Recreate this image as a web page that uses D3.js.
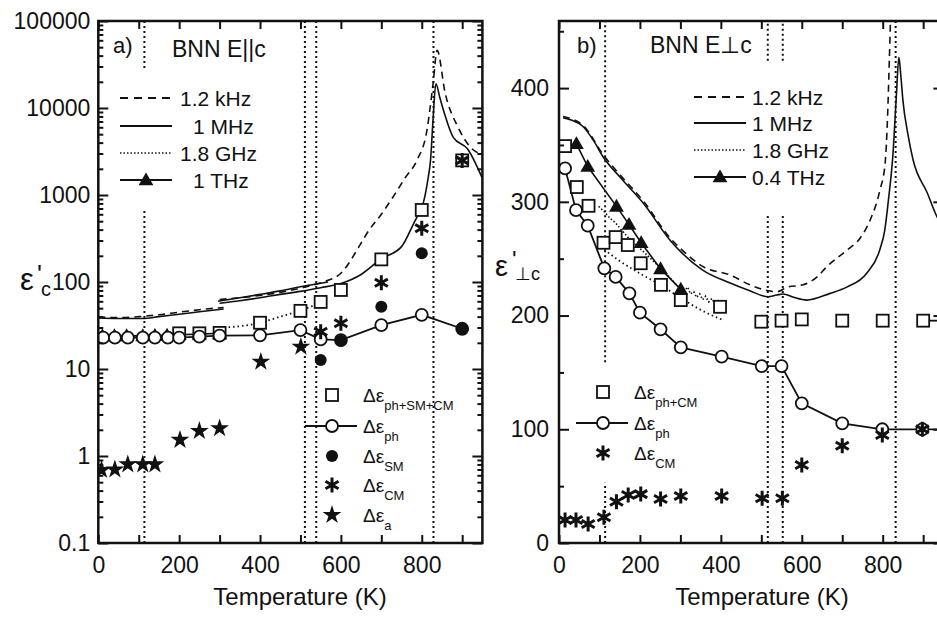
<!DOCTYPE html>
<html>
<head>
<meta charset="utf-8">
<script src="https://cdn.jsdelivr.net/npm/d3@7"></script>
<style>
  body { margin: 0; background: #fff; }
  text { font-family: "Liberation Sans", Arial, Helvetica, sans-serif; fill: #111; }
</style>
</head>
<body>
<svg id="chart" width="937" height="617"></svg>
<script>
// ---------- axis ticks ----------
const xTickValues = [0, 100, 200, 300, 400, 500, 600, 700, 800, 900];
const xTickLabels = [0, 200, 400, 600, 800];
const yMajorA = [0.1, 1, 10, 100, 1000, 10000, 100000];
const yLabelsA = ["0.1", "1", "10", "100", "1000", "10000", "100000"];
const yMajorB = [0, 100, 200, 300, 400];
const yMinorB = [50, 150, 250, 350, 450];

// ---------- panel a: BNN E||c (log scale) ----------
// continuous spectra [T (K), eps']
const aKHzLow  = [[0,39.5],[50,39],[100,40],[150,42],[200,45],[250,48],[310,51]];
const aMHzLow  = [[0,38.5],[50,38],[110,38],[150,40],[200,42.5],[250,45.5],[310,49]];
const aKHzHigh = [[300,63],[350,66],[400,70],[450,76],[500,85],[550,98],[600,126],[650,280],[665,366],[700,600],[729,950],[760,1600],[788,2500],[813,5600],[828,19000],[838,46000],[858,14800],[890,6000],[919,3600],[950,2900]];
const aMHzHigh = [[300,57],[350,61],[400,66],[450,72],[500,78],[550,86],[600,96],[650,122],[700,185],[750,255],[780,470],[790,580],[805,850],[815,1490],[822,2600],[828,7500],[835,19000],[845,13000],[855,9000],[878,4600],[913,3400],[950,1550]];
const aMHzMid  = [[296,60],[350,66],[400,72],[450,79],[500,88],[568,100]];
const aGHz     = [[300,30],[350,31],[400,34],[450,40],[500,47],[550,58]];
// mode strengths
const aTHzT   = [10, 40, 70, 110, 140, 170, 200, 250, 300];
const aTHzV   = [24, 24, 24, 24, 24.2, 24.4, 24.8, 25.2, 25.8];
const aSumT   = [200, 250, 300, 400, 500, 550, 600, 700, 800, 900];
const aSumV   = [25.7, 25.7, 26, 34, 46.6, 59, 81, 182, 673, 2500];
const aPhT    = [12, 41, 73, 110, 140, 172, 200, 250, 300, 400, 500, 550, 600, 700, 800, 900];
const aPhV    = [22.9, 22.9, 22.9, 22.9, 23, 23, 23, 23.6, 24.2, 24.4, 28, 21.9, 21.5, 32, 42, 29];
const aSmT    = [550, 600, 700, 800, 900];
const aSmV    = [12.7, 21.1, 52, 214, 29];
const aCmT    = [550, 600, 700, 800, 900];
const aCmV    = [26.8, 33.5, 98, 414, 2500];
const aAT     = [8, 41, 73, 110, 140, 202, 250, 300, 402, 501];
const aAV     = [0.69, 0.70, 0.80, 0.80, 0.80, 1.53, 1.94, 2.08, 12.1, 18.0];
// phase transition temperatures (K), with gaps left for the legends
const refA = [{t:114, gap:[690, 28800]}, {t:511}, {t:539}, {t:829}];

// ---------- panel b: BNN E⊥c (linear scale) ----------
const bKHz = [[10,375],[60,367],[110,341],[150,324],[210,300],[275,268],[300,259],[356,243],[423,235.6],[472,227],[514,222],[540,221],[564,225],[603,227],[638,234],[662,243],[712,257.6],[744,268],[769,284],[793,310],[806,334],[812,375],[816,420],[820,470]];
const bMHz = [[10,374],[30,372],[60,366],[85,354],[110,339],[150,322],[210,298],[275,266],[355,240],[420,229],[470,222],[517,216.5],[538,218],[554,219],[580,216],[612,213.6],[670,219.5],[711,225],[760,237],[793,258],[805,275],[814,301],[826,345],[834,395],[840,427],[845,410],[850,389],[862,360],[875,337],[910,308],[934,287],[950,278]];
const bGHz = [[98,296],[110,292],[125,286],[141,281],[155,275],[170,269],[185,264],[203,258],[215,254],[230,249],[250,242],[262,238],[275,233],[290,227],[300,224],[310,222],[318,225],[325,219],[333,221],[340,216],[348,219],[355,214],[362,217],[370,212],[378,215],[385,210],[392,214],[400,211],[408,213]];
const bGHz2 = [[112,258],[150,248],[200,237],[250,227],[307,214],[350,205],[406,196]];
const bTHzT  = [43, 71, 142, 173, 203, 251, 301];
const bTHzV  = [351, 331, 296, 280, 264, 241, 223];
const bSumT  = [15, 44, 73, 110, 140, 170, 202, 252, 301, 398, 500, 550, 600, 700, 800, 900];
const bSumV  = [349, 313, 296.5, 264, 269, 262, 246, 227, 213.6, 207.7, 194.6, 195.5, 196.6, 195.5, 195.5, 195.5];
const bPhT   = [15, 42, 71, 112, 140, 174, 200, 251, 301, 402, 501, 550, 600, 700, 799, 898];
const bPhV   = [329.4, 292.7, 279, 241.5, 234, 219.5, 202.5, 187.9, 172, 163.8, 155.6, 155.6, 122.8, 105.2, 100, 100];
const bCmT   = [15, 42, 72, 111, 142, 171, 202, 251, 301, 402, 502, 552, 600, 700, 799, 898];
const bCmV   = [20.2, 20.2, 16.7, 22.6, 36.3, 42.2, 43, 38.7, 41.3, 41.3, 39.3, 39.3, 68.6, 85.5, 95, 100];
const refB = [{t:114, gap:[53, 159]}, {t:516, gap:[290, 424]}, {t:553, gap:[290, 424]}, {t:832}];

// ---------- drawing ----------
const svg = d3.select("#chart");
svg.append("rect").attr("width", 937).attr("height", 617).attr("fill", "#fff");
const zip = (T, V) => T.map((t, i) => [t, V[i]]);

function makePanel(id, x, y) {
  const [x0, x1] = x.range();
  const [yb, yt] = y.range();
  svg.append("clipPath").attr("id", "clip-" + id)
    .append("rect").attr("x", x0).attr("y", yt).attr("width", x1 - x0).attr("height", yb - yt);
  const g = svg.append("g");
  const plot = g.append("g").attr("clip-path", `url(#clip-${id})`);
  return { g, plot, x, y };
}

function curve(P, data, dash, width = 1.6, smooth = true) {
  P.plot.append("path")
    .datum(data)
    .attr("fill", "none").attr("stroke", "#111").attr("stroke-width", width)
    .attr("stroke-dasharray", dash || null)
    .attr("d", d3.line().x(d => P.x(d[0])).y(d => P.y(d[1]))
      .curve(smooth ? d3.curveMonotoneX : d3.curveLinear));
}

function refLines(P, list) {
  const [yb, yt] = P.y.range();
  list.forEach(r => {
    const segs = r.gap ? [[yb, P.y(r.gap[0])], [P.y(r.gap[1]), yt]] : [[yb, yt]];
    segs.forEach(s => P.plot.append("line")
      .attr("x1", P.x(r.t)).attr("x2", P.x(r.t)).attr("y1", s[0]).attr("y2", s[1])
      .attr("stroke", "#111").attr("stroke-width", 2).attr("stroke-dasharray", "2,3"));
  });
}

// marker shapes drawn at pixel position (cx, cy)
const markers = {
  square: (g, cx, cy) => g.append("rect").attr("x", cx - 6).attr("y", cy - 6).attr("width", 12).attr("height", 12)
    .attr("fill", "#fff").attr("stroke", "#111").attr("stroke-width", 1.8),
  circle: (g, cx, cy) => g.append("circle").attr("cx", cx).attr("cy", cy).attr("r", 6)
    .attr("fill", "#fff").attr("stroke", "#111").attr("stroke-width", 1.8),
  dot: (g, cx, cy) => g.append("circle").attr("cx", cx).attr("cy", cy).attr("r", 6).attr("fill", "#111"),
  triangle: (g, cx, cy) => g.append("path").attr("transform", `translate(${cx},${cy + 1})`)
    .attr("d", d3.symbol().type(d3.symbolTriangle).size(95)()).attr("fill", "#111"),
  star: (g, cx, cy) => g.append("path").attr("transform", `translate(${cx},${cy})`)
    .attr("d", d3.symbol().type(d3.symbolStar).size(110)()).attr("fill", "#111"),
  asterisk: (g, cx, cy) => {
    const r = 7.5, a = r * Math.cos(Math.PI / 6), b = r * Math.sin(Math.PI / 6);
    g.append("path")
      .attr("d", `M${cx},${cy - r}L${cx},${cy + r}M${cx - a},${cy - b}L${cx + a},${cy + b}M${cx - a},${cy + b}L${cx + a},${cy - b}`)
      .attr("stroke", "#111").attr("stroke-width", 3).attr("fill", "none");
  }
};

function points(P, T, V, shape) {
  T.forEach((t, i) => markers[shape](P.plot, P.x(t), P.y(V[i])));
}

function styleAxis(sel) {
  sel.select(".domain").remove();
  sel.selectAll(".tick line").attr("stroke", "#111").attr("stroke-width", 2);
  sel.selectAll(".tick text").attr("font-size", 23).attr("fill", "#111")
    .attr("font-family", '"Liberation Sans", Arial, sans-serif');
  sel.attr("font-family", null).attr("font-size", null);
}

function axes(P, yMajor, yMinor, yFmt, yPad) {
  const [x0, x1] = P.x.range();
  const [yb, yt] = P.y.range();
  P.g.append("g").attr("transform", `translate(0,${yb})`)
    .call(d3.axisBottom(P.x).tickValues(xTickValues).tickSize(-8).tickPadding(14)
      .tickFormat(d => xTickLabels.includes(d) ? d : "")).call(styleAxis);
  P.g.append("g").attr("transform", `translate(0,${yt})`)
    .call(d3.axisTop(P.x).tickValues(xTickValues).tickSize(-8).tickFormat("")).call(styleAxis);
  P.g.append("g").attr("transform", `translate(${x0},0)`)
    .call(d3.axisLeft(P.y).tickValues(yMajor).tickSize(-10).tickPadding(yPad).tickFormat(yFmt)).call(styleAxis);
  P.g.append("g").attr("transform", `translate(${x0},0)`)
    .call(d3.axisLeft(P.y).tickValues(yMinor).tickSize(-5).tickFormat("")).call(styleAxis);
  P.g.append("g").attr("transform", `translate(${x1},0)`)
    .call(d3.axisRight(P.y).tickValues(yMajor).tickSize(-10).tickFormat("")).call(styleAxis);
  P.g.append("g").attr("transform", `translate(${x1},0)`)
    .call(d3.axisRight(P.y).tickValues(yMinor).tickSize(-5).tickFormat("")).call(styleAxis);
  P.g.append("rect").attr("x", x0).attr("y", yt).attr("width", x1 - x0).attr("height", yb - yt)
    .attr("fill", "none").attr("stroke", "#111").attr("stroke-width", 2.5);
}

function label(x, y, str, size, anchor) {
  return svg.append("text").attr("x", x).attr("y", y).attr("font-size", size)
    .attr("text-anchor", anchor || "start").text(str);
}

function freqLegend(x1, x2, rows) {
  rows.forEach(r => {
    svg.append("line").attr("x1", x1).attr("x2", x2).attr("y1", r.y).attr("y2", r.y)
      .attr("stroke", "#111").attr("stroke-width", r.dash === "1.5,2" ? 1.6 : 1.8)
      .attr("stroke-dasharray", r.dash || null);
    if (r.tri) markers.triangle(svg, (x1 + x2) / 2, r.y);
    label(r.tx, r.y + 8, r.text, 21);
  });
}

function symLegend(mx, lx, rows) {
  rows.forEach(r => {
    if (r.line) svg.append("line").attr("x1", mx - 27).attr("x2", mx + 25).attr("y1", r.y).attr("y2", r.y)
      .attr("stroke", "#111").attr("stroke-width", 1.8);
    markers[r.shape](svg, mx, r.y);
    const t = svg.append("text").attr("x", lx).attr("y", r.y + 7).attr("font-size", 19);
    t.append("tspan").text("Δε");
    t.append("tspan").attr("font-size", 13).attr("dy", 8).text(r.sub);
  });
}

// ----- panel a -----
const xA = d3.scaleLinear().domain([0, 950]).range([98.3, 482.4]);
const yA = d3.scaleLog().domain([0.1, 100000]).range([543, 21]);
const A = makePanel("a", xA, yA);
refLines(A, refA);
curve(A, aKHzLow, "7,5");
curve(A, aMHzLow, null);
curve(A, aKHzHigh, "7,5");
curve(A, aMHzHigh, null);
curve(A, aMHzMid, null);
curve(A, aGHz, "1.5,3", 1.8);
A.plot.append("path").datum(zip(aTHzT, aTHzV)).attr("fill", "none").attr("stroke", "#111").attr("stroke-width", 1.6)
  .attr("d", d3.line().x(d => xA(d[0])).y(d => yA(d[1])));
points(A, aTHzT, aTHzV, "triangle");
A.plot.append("path").datum(zip(aPhT, aPhV)).attr("fill", "none").attr("stroke", "#111").attr("stroke-width", 1.8)
  .attr("d", d3.line().x(d => xA(d[0])).y(d => yA(d[1])));
points(A, aSumT, aSumV, "square");
points(A, aPhT, aPhV, "circle");
points(A, aSmT, aSmV, "dot");
points(A, aCmT, aCmV, "asterisk");
points(A, aAT, aAV, "star");
axes(A, yMajorA, d3.merge(yMajorA.slice(0, -1).map(d => d3.range(2, 10).map(k => d * k))), (d, i) => yLabelsA[i], 8);

// ----- panel b -----
const xB = d3.scaleLinear().domain([0, 950]).range([559, 943.4]);
const yB = d3.scaleLinear().domain([0, 459]).range([543, 21]);
const B = makePanel("b", xB, yB);
refLines(B, refB);
curve(B, bKHz, "7,5");
curve(B, bMHz, null);
curve(B, bGHz, "1.5,2", 1.6, false);
curve(B, bGHz2, "1.5,3", 1.8);
B.plot.append("path").datum(zip(bTHzT, bTHzV)).attr("fill", "none").attr("stroke", "#111").attr("stroke-width", 1.6)
  .attr("d", d3.line().x(d => xB(d[0])).y(d => yB(d[1])));
points(B, bTHzT, bTHzV, "triangle");
B.plot.append("path").datum(zip(bPhT, bPhV).concat([[950, 100]])).attr("fill", "none").attr("stroke", "#111").attr("stroke-width", 1.8)
  .attr("d", d3.line().x(d => xB(d[0])).y(d => yB(d[1])));
B.plot.append("path").datum([[900, 195.5], [950, 195.5]]).attr("fill", "none").attr("stroke", "#111").attr("stroke-width", 1.8)
  .attr("d", d3.line().x(d => xB(d[0])).y(d => yB(d[1])));
points(B, bSumT, bSumV, "square");
points(B, bPhT, bPhV, "circle");
points(B, bCmT, bCmV, "asterisk");
axes(B, yMajorB, yMinorB, d => d, 10);

// ----- titles, axis labels, legends -----
label(113, 53, "a)", 22);
label(172, 57, "BNN E||c", 23);
label(577, 53, "b)", 22);
label(650, 53, "BNN E\u22A5c", 23);

label(300, 605, "Temperature (K)", 24, "middle");
label(762, 605, "Temperature (K)", 24, "middle");

label(20, 290, "ε", 31);
label(37, 283, "'", 26);
label(41, 296, "c", 20);
label(495, 276, "ε", 29);
label(512, 268, "'", 24);
label(515, 280, "\u22A5c", 18);

freqLegend(120, 172, [
  { y: 98, dash: "8,6", text: "1.2 kHz", tx: 180 },
  { y: 126, text: "1 MHz", tx: 193 },
  { y: 153, dash: "1.5,2", text: "1.8 GHz", tx: 180 },
  { y: 180, tri: true, text: "1 THz", tx: 193 }
]);
freqLegend(694, 746, [
  { y: 97, dash: "8,6", text: "1.2 kHz", tx: 752 },
  { y: 123, text: "1 MHz", tx: 752 },
  { y: 150, dash: "1.5,2", text: "1.8 GHz", tx: 752 },
  { y: 177, tri: true, text: "0.4 THz", tx: 752 }
]);

symLegend(332, 363, [
  { y: 395, shape: "square", sub: "ph+SM+CM" },
  { y: 426, shape: "circle", sub: "ph", line: true },
  { y: 456, shape: "dot", sub: "SM" },
  { y: 485, shape: "asterisk", sub: "CM" },
  { y: 515, shape: "star", sub: "a" }
]);
symLegend(603, 634, [
  { y: 392, shape: "square", sub: "ph+CM" },
  { y: 423, shape: "circle", sub: "ph", line: true },
  { y: 453, shape: "asterisk", sub: "CM" }
]);
</script>
</body>
</html>
